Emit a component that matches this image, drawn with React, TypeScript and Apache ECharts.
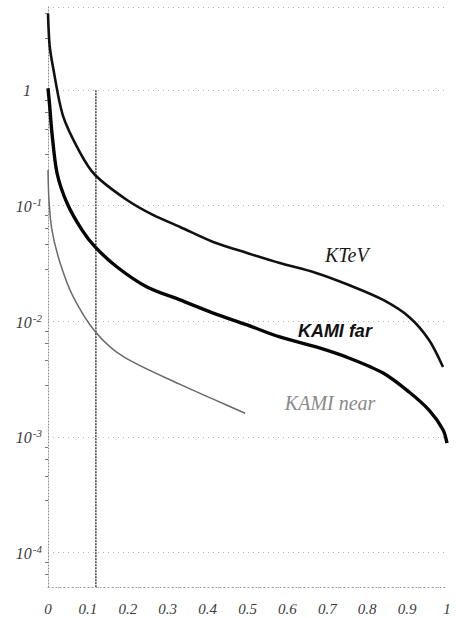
import React, { useEffect, useRef } from "react";
import * as echarts from "echarts";

// x positions (fraction) and rates for each experiment
const ktevX = [0, 0.004, 0.0125, 0.0376, 0.08, 0.118, 0.198, 0.263, 0.331, 0.414, 0.499, 0.581, 0.672, 0.754, 0.84, 0.905, 0.955, 0.99];
const ktevY = [4.6, 2.46, 1.59, 0.6, 0.29, 0.1845, 0.112, 0.0832, 0.0655, 0.0486, 0.039, 0.0319, 0.0262, 0.0206, 0.0153, 0.0109, 0.00689, 0.00402];

const kamiFarX = [0, 0.004, 0.01, 0.0226, 0.0476, 0.085, 0.118, 0.173, 0.248, 0.331, 0.414, 0.499, 0.581, 0.672, 0.754, 0.84, 0.905, 0.955, 0.99, 1.0];
const kamiFarY = [1.04, 0.745, 0.425, 0.192, 0.1055, 0.0617, 0.044, 0.0295, 0.0198, 0.0153, 0.01178, 0.00929, 0.00731, 0.00599, 0.00481, 0.00356, 0.00244, 0.0017, 0.00115, 0.00088];

const kamiNearX = [0, 0.0025, 0.01, 0.03, 0.0627, 0.118, 0.188, 0.331, 0.414, 0.494];
const kamiNearY = [0.204, 0.111, 0.0612, 0.0323, 0.0164, 0.00817, 0.00496, 0.00284, 0.00212, 0.0016];

// vertical cut line
const cutX = [0.12, 0.12];
const cutY = [1, 5.02e-5];

// curve names and where their names sit (x, y in data units)
const seriesNames = ["KTeV", "KAMI far", "KAMI near"];
const nameAnchors: [number, number][] = [
  [0.749, 0.0374],
  [0.719, 0.0083],
  [0.707, 0.00196],
];

const yMin = Math.pow(10, -4.3);
const yMax = Math.pow(10, 0.72);

const pairs = (xs: number[], ys: number[]) => xs.map((x, i) => [x, ys[i]]);

export default function App() {
  const ref = useRef<HTMLDivElement>(null);

  useEffect(() => {
    if (!ref.current) return;
    const chart = echarts.init(ref.current, null, { renderer: "svg" });

    const serifItalic = {
      fontFamily: "Liberation Serif",
      fontStyle: "italic" as const,
    };

    const nameLabel = (idx: number, style: Record<string, unknown>) => ({
      symbol: "circle",
      symbolSize: 0,
      silent: true,
      data: [
        {
          coord: nameAnchors[idx],
          label: {
            show: true,
            position: "inside",
            formatter: seriesNames[idx],
            ...style,
          },
        },
      ],
    });

    chart.setOption({
      animation: false,
      backgroundColor: "#ffffff",
      grid: {
        left: 48,
        right: 9,
        top: 7,
        bottom: 31,
        containLabel: false,
        outerBoundsMode: "none",
      },
      xAxis: {
        type: "value",
        min: 0,
        max: 1,
        interval: 0.1,
        axisLine: {
          show: true,
          lineStyle: { color: "#9a9a9a", type: [1, 3], width: 1 },
        },
        axisTick: { show: false },
        splitLine: { show: false },
        axisLabel: {
          ...serifItalic,
          fontSize: 15,
          color: "#3c3c3c",
          margin: 14,
          formatter: (v: number) => {
            const r = Math.round(v * 10) / 10;
            if (r === 0) return "0";
            if (r === 1) return "1";
            return r.toFixed(1);
          },
        },
      },
      yAxis: {
        type: "log",
        logBase: 10,
        min: yMin,
        max: yMax,
        axisLine: {
          show: true,
          lineStyle: { color: "#8c8c8c", type: [1, 2], width: 1 },
        },
        axisTick: { show: false },
        minorTick: {
          show: true,
          splitNumber: 5,
          length: 3,
          lineStyle: { color: "#777" },
        },
        splitLine: {
          show: true,
          lineStyle: { color: "#b5b5b5", type: [1, 4], width: 1 },
        },
        axisLabel: {
          margin: 6,
          showMinLabel: false,
          showMaxLabel: false,
          formatter: (v: number) => {
            const e = Math.log10(v);
            const r = Math.round(e);
            if (Math.abs(e - r) > 1e-6) return "";
            if (r === 0) return "{one|1}";
            return `{b|10}{s|${r}}`;
          },
          rich: {
            one: {
              ...serifItalic,
              fontSize: 16,
              color: "#3c3c3c",
              lineHeight: 18,
              padding: [0, 11, 0, 0],
            },
            b: {
              ...serifItalic,
              fontSize: 16,
              color: "#3c3c3c",
              lineHeight: 18,
              verticalAlign: "bottom",
            },
            s: {
              ...serifItalic,
              fontSize: 11,
              color: "#3c3c3c",
              lineHeight: 18,
              verticalAlign: "top",
              padding: [0, 0, 10, 1],
            },
          },
        },
      },
      series: [
        {
          name: "cut",
          type: "line",
          data: pairs(cutX, cutY),
          symbol: "none",
          silent: true,
          lineStyle: { color: "#333", width: 1.4, type: [2, 1] },
        },
        {
          name: seriesNames[0],
          type: "line",
          data: pairs(ktevX, ktevY),
          symbol: "none",
          smooth: 0.3,
          lineStyle: { color: "#111", width: 2.6 },
          markPoint: nameLabel(0, {
            ...serifItalic,
            fontSize: 20,
            color: "#1a1a1a",
          }),
        },
        {
          name: seriesNames[1],
          type: "line",
          data: pairs(kamiFarX, kamiFarY),
          symbol: "none",
          smooth: 0.3,
          lineStyle: { color: "#050505", width: 3.4 },
          markPoint: nameLabel(1, {
            fontFamily: "Liberation Sans",
            fontStyle: "italic",
            fontWeight: "bold",
            fontSize: 18,
            color: "#111",
          }),
        },
        {
          name: seriesNames[2],
          type: "line",
          data: pairs(kamiNearX, kamiNearY),
          symbol: "none",
          smooth: 0.3,
          lineStyle: { color: "#6a6a6a", width: 1.5 },
          markPoint: nameLabel(2, {
            ...serifItalic,
            fontSize: 20,
            color: "#8a8a8a",
          }),
        },
      ],
    });

    return () => chart.dispose();
  }, []);

  return (
    <div
      ref={ref}
      style={{
        position: "fixed",
        left: 0,
        top: 0,
        width: 456,
        height: 618,
        background: "#fff",
      }}
    />
  );
}
